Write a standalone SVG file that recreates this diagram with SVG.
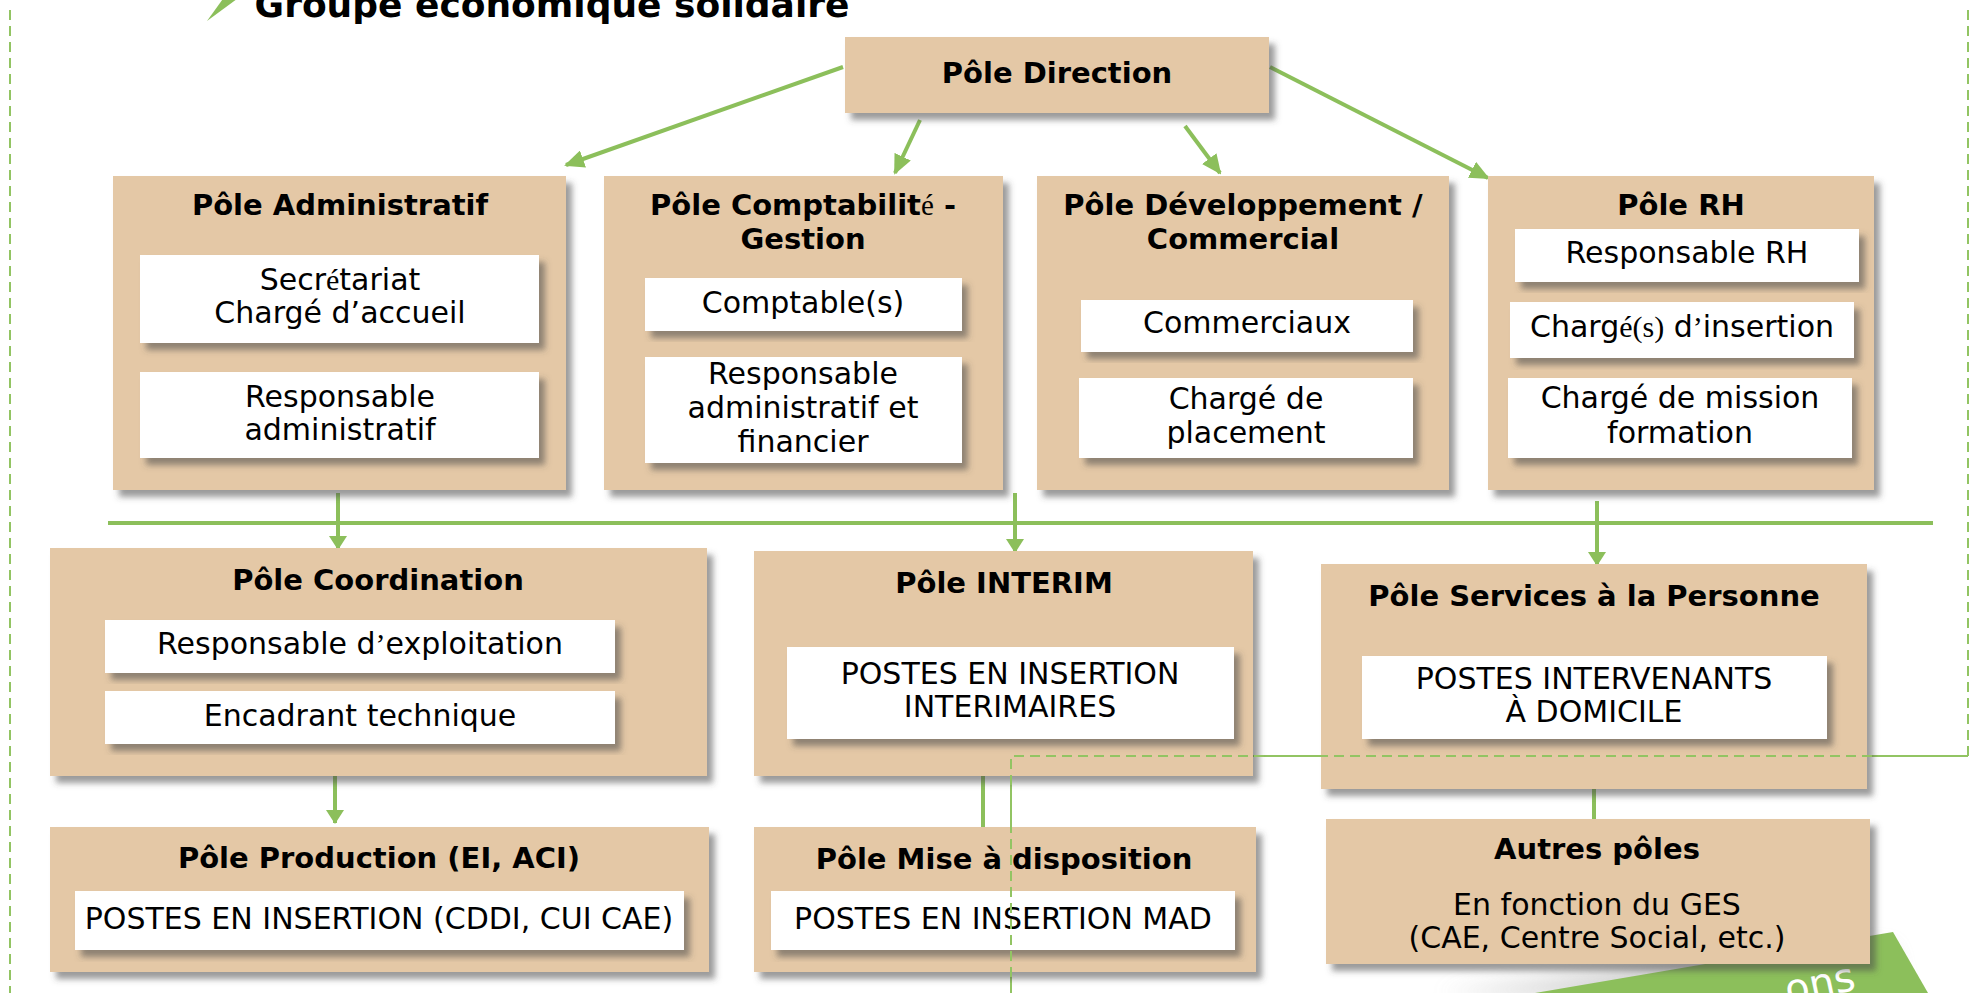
<svg xmlns="http://www.w3.org/2000/svg" width="1978" height="993" viewBox="0 0 1978 993">
  <defs>
    <filter id="shadow" x="-10%" y="-10%" width="125%" height="130%">
      <feDropShadow dx="6" dy="7" stdDeviation="3" flood-color="#4a4a4a" flood-opacity="0.55"/>
    </filter>
    <filter id="soft" x="-20%" y="-50%" width="140%" height="200%">
      <feGaussianBlur stdDeviation="10"/>
    </filter>
    <marker id="head" markerUnits="userSpaceOnUse" markerWidth="20" markerHeight="18" refX="18" refY="9" orient="auto">
      <path d="M0,0 L20,9 L0,18 z" fill="#8cbf5b"/>
    </marker>
    <marker id="headV" markerUnits="userSpaceOnUse" markerWidth="14" markerHeight="18" refX="13" refY="9" orient="auto">
      <path d="M0,0 L14,9 L0,18 z" fill="#8cbf5b"/>
    </marker>
  </defs>
  <style>
    .pole { fill: #e4c8a6; filter: url(#shadow); }
    .role { fill: #ffffff; filter: url(#shadow); }
    .h { font-family: "DejaVu Sans", "Liberation Sans", sans-serif; font-weight: bold; font-size: 29px; fill: #000; text-anchor: middle; }
    .t { font-family: "DejaVu Sans", "Liberation Sans", sans-serif; font-size: 30px; fill: #000; text-anchor: middle; }
    .serif { font-family: "Liberation Serif", "DejaVu Serif", serif; font-weight: normal; }
    .link { stroke: #8cbf5b; stroke-width: 4; fill: none; }
    .frame { stroke: #92c463; stroke-width: 2; fill: none; stroke-dasharray: 10 6; }
  </style>

  <rect width="1978" height="993" fill="#ffffff"/>

  <!-- slide frame -->
  <g id="frame">
    <path class="frame" d="M10,10 V993"/>
    <path class="frame" d="M1968,10 V756 H1011 V993"/>
  </g>

  <!-- heading -->
  <g id="title">
    <polygon points="207,21 225,-4 241,-4" fill="#8cbf5b"/>
    <text x="552" y="17" font-family="DejaVu Sans, Liberation Sans, sans-serif" font-weight="bold" font-size="36" text-anchor="middle" fill="#000">Groupe économique solidaire</text>
  </g>

  <!-- ribbon, lower right -->
  <g id="ribbon">
    <polygon points="1440,993 1700,966 1890,948 1900,993" fill="#9a9a9a" opacity="0.6" filter="url(#soft)"/>
    <polygon points="1893,932 1928,993 1535,993" fill="#8cbf5b"/>
    <text x="1788" y="1004" transform="rotate(-12 1788 1004)" font-family="DejaVu Sans, Liberation Sans, sans-serif" font-size="40" fill="#ffffff">ons</text>
  </g>

  <!-- connectors -->
  <g id="connectors">
    <line class="link" x1="843" y1="67" x2="566" y2="165" marker-end="url(#head)"/>
    <line class="link" x1="920" y1="120" x2="895" y2="173" marker-end="url(#head)"/>
    <line class="link" x1="1185" y1="126" x2="1220" y2="173" marker-end="url(#head)"/>
    <line class="link" x1="1270" y1="67" x2="1488" y2="178" marker-end="url(#head)"/>
    <line class="link" x1="108" y1="523" x2="1933" y2="523" stroke-width="3"/>
    <line class="link" x1="338" y1="493" x2="338" y2="549" stroke-width="3" marker-end="url(#headV)"/>
    <line class="link" x1="1015" y1="493" x2="1015" y2="552" stroke-width="3" marker-end="url(#headV)"/>
    <line class="link" x1="1597" y1="501" x2="1597" y2="565" stroke-width="3" marker-end="url(#headV)"/>
    <line class="link" x1="335" y1="776" x2="335" y2="823" stroke-width="3" marker-end="url(#headV)"/>
    <line class="link" x1="983" y1="776" x2="983" y2="827"/>
    <line class="link" x1="1594" y1="789" x2="1594" y2="819" stroke-width="3"/>
  </g>

  <!-- top level -->
  <g id="pole-direction">
    <rect class="pole" x="845" y="37" width="424" height="76"/>
    <text class="h" x="1057" y="83">Pôle Direction</text>
  </g>

  <!-- support poles -->
  <g id="pole-administratif">
    <rect class="pole" x="113" y="176" width="453" height="314"/>
    <text class="h" x="340" y="215">Pôle Administratif</text>
    <rect class="role" x="140" y="255" width="399" height="88"/>
    <text class="t" x="340" y="290">Secr<tspan class="serif">é</tspan>tariat</text>
    <text class="t" x="340" y="323">Chargé d’accueil</text>
    <rect class="role" x="140" y="372" width="399" height="86"/>
    <text class="t" x="340" y="407">Responsable</text>
    <text class="t" x="340" y="440">administratif</text>
  </g>

  <g id="pole-comptabilite">
    <rect class="pole" x="604" y="176" width="399" height="314"/>
    <text class="h" x="803" y="215">Pôle Comptabilit<tspan class="serif">é</tspan> -</text>
    <text class="h" x="803" y="249">Gestion</text>
    <rect class="role" x="645" y="278" width="317" height="53"/>
    <text class="t" x="803" y="313">Comptable(s)</text>
    <rect class="role" x="645" y="357" width="317" height="106"/>
    <text class="t" x="803" y="384">Responsable</text>
    <text class="t" x="803" y="418">administratif et</text>
    <text class="t" x="803" y="452">financier</text>
  </g>

  <g id="pole-developpement">
    <rect class="pole" x="1037" y="176" width="412" height="314"/>
    <text class="h" x="1243" y="215">Pôle Développement /</text>
    <text class="h" x="1243" y="249">Commercial</text>
    <rect class="role" x="1081" y="300" width="332" height="52"/>
    <text class="t" x="1247" y="333">Commerciaux</text>
    <rect class="role" x="1079" y="378" width="334" height="80"/>
    <text class="t" x="1246" y="409">Chargé de</text>
    <text class="t" x="1246" y="443">placement</text>
  </g>

  <g id="pole-rh">
    <rect class="pole" x="1488" y="176" width="386" height="314"/>
    <text class="h" x="1681" y="215">Pôle RH</text>
    <rect class="role" x="1515" y="229" width="344" height="53"/>
    <text class="t" x="1687" y="263">Responsable RH</text>
    <rect class="role" x="1510" y="302" width="344" height="56"/>
    <text class="t" x="1682" y="337">Charg<tspan class="serif">é(s)</tspan> d<tspan class="serif">’</tspan>insertion</text>
    <rect class="role" x="1508" y="378" width="344" height="80"/>
    <text class="t" x="1680" y="408">Chargé de mission</text>
    <text class="t" x="1680" y="443">formation</text>
  </g>

  <!-- operational poles -->
  <g id="pole-coordination">
    <rect class="pole" x="50" y="548" width="657" height="228"/>
    <text class="h" x="378" y="590">Pôle Coordination</text>
    <rect class="role" x="105" y="620" width="510" height="53"/>
    <text class="t" x="360" y="654">Responsable d<tspan class="serif">’</tspan>exploitation</text>
    <rect class="role" x="105" y="691" width="510" height="53"/>
    <text class="t" x="360" y="726">Encadrant technique</text>
  </g>

  <g id="pole-interim">
    <rect class="pole" x="754" y="551" width="499" height="225"/>
    <text class="h" x="1004" y="593">Pôle INTERIM</text>
    <rect class="role" x="787" y="647" width="447" height="92"/>
    <text class="t" x="1010" y="684">POSTES EN INSERTION</text>
    <text class="t" x="1010" y="717">INTERIMAIRES</text>
  </g>

  <g id="pole-services">
    <rect class="pole" x="1321" y="564" width="546" height="225"/>
    <text class="h" x="1594" y="606">Pôle Services à la Personne</text>
    <rect class="role" x="1362" y="656" width="465" height="83"/>
    <text class="t" x="1594" y="689">POSTES INTERVENANTS</text>
    <text class="t" x="1594" y="722">À DOMICILE</text>
  </g>

  <g id="pole-production">
    <rect class="pole" x="50" y="827" width="659" height="145"/>
    <text class="h" x="379" y="868">Pôle Production (EI, ACI)</text>
    <rect class="role" x="75" y="891" width="609" height="59"/>
    <text class="t" x="379" y="929">POSTES EN INSERTION (CDDI, CUI CAE)</text>
  </g>

  <g id="pole-mise-a-disposition">
    <rect class="pole" x="754" y="827" width="502" height="145"/>
    <text class="h" x="1004" y="869">Pôle Mise à disposition</text>
    <rect class="role" x="771" y="891" width="464" height="59"/>
    <text class="t" x="1003" y="929">POSTES EN INSERTION MAD</text>
  </g>

  <g id="autres-poles">
    <rect class="pole" x="1326" y="819" width="544" height="145"/>
    <text class="h" x="1597" y="859">Autres pôles</text>
    <text class="t" x="1597" y="915">En fonction du GES</text>
    <text class="t" x="1597" y="948">(CAE, Centre Social, etc.)</text>
  </g>

  <!-- frame segments drawn over the boxes -->
  <g id="frame-overlay">
    <path class="frame" d="M1968,756 H1011 V993"/>
  </g>
</svg>
